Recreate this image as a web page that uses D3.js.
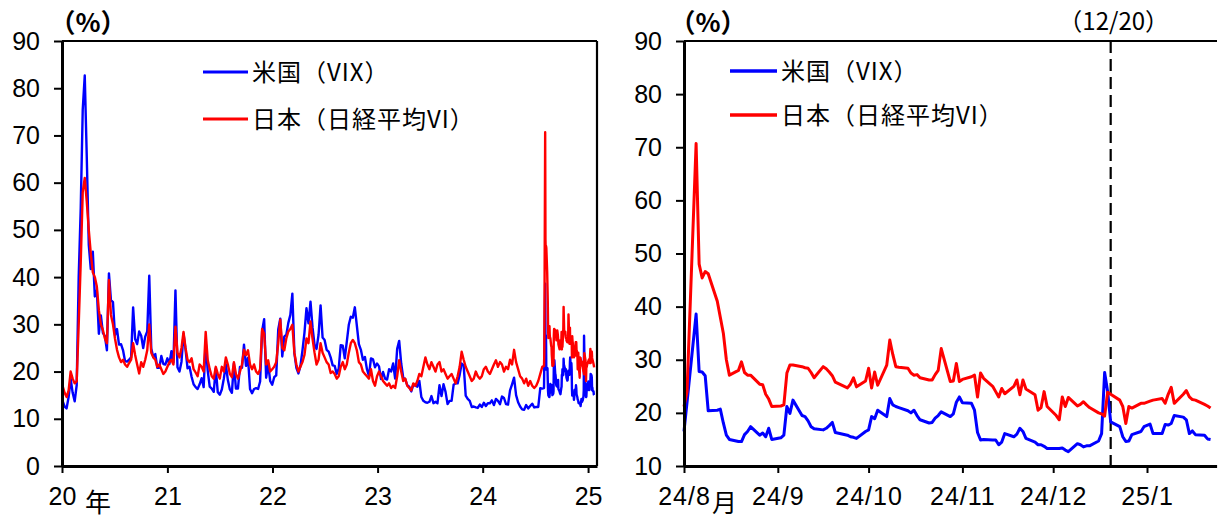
<!DOCTYPE html>
<html>
<head>
<meta charset="utf-8">
<script src="https://cdn.jsdelivr.net/npm/d3@7/dist/d3.min.js"></script>
<style>
  html, body { margin: 0; padding: 0; background: #fff; overflow: hidden; }
  svg { display: block; }
  .tick text { font-family: "Liberation Sans", Arial, sans-serif; font-size: 25px; fill: #000; }
  .jp { font-family: "Noto Sans CJK JP", sans-serif; fill: #000; }
</style>
</head>
<body>
<svg id="chart" width="1219" height="520"></svg>
<script>
"use strict";

// ---- data ----
// left panel: weekly points (Fridays) from 2020-01-03 to 2024-07-26, then the daily points below
const weekStart = "2020-01-03";
const usWeekly = [
  13.8,12.6,12.2,14.6,18.5,15.5,13.7,17.1,40.1,54.5,
  75.5,82.7,65.5,46.8,41.7,45.4,35.9,37.2,28.0,31.9,
  28.2,27.5,24.5,40.8,35.1,34.7,27.7,29.0,25.7,25.8,
  24.5,22.2,22.1,22.5,23.0,33.6,26.9,25.8,28.5,27.6,
  25.0,27.4,28.5,40.3,24.9,23.1,23.7,20.8,20.8,23.3,
  21.6,21.5,
  22.8,21.6,24.3,21.9,37.2,20.9,20.0,22.1,28.0,24.7,
  20.7,21.0,18.9,17.3,16.7,16.3,17.3,18.6,16.7,26.3,
  20.2,16.8,16.4,15.7,20.7,15.6,15.1,16.2,18.5,21.5,
  18.2,16.2,15.5,21.7,16.4,16.4,21.0,20.8,25.7,21.2,
  22.9,16.3,15.4,16.3,16.5,16.3,17.9,28.6,31.1,18.7,
  21.6,18.0,17.2,
  18.8,19.2,28.9,31.2,23.2,27.4,27.8,30.3,32.0,36.5,
  23.9,20.8,19.6,21.2,24.4,28.2,33.4,30.2,34.8,29.4,
  25.7,24.8,27.8,34.0,27.2,26.7,24.6,24.2,23.0,21.3,
  21.2,19.5,20.6,25.6,25.5,22.8,26.3,29.9,31.6,31.4,
  33.6,29.7,25.8,24.6,22.5,23.1,20.5,19.1,22.8,22.6,
  20.9,21.7,
  21.1,18.4,19.9,18.5,18.3,20.5,20.0,21.7,18.5,24.8,
  26.5,21.7,18.7,18.4,17.1,16.8,15.8,17.2,17.0,16.8,
  18.0,14.6,13.8,13.5,13.4,13.6,14.8,13.3,13.6,13.3,
  17.1,14.8,17.3,15.7,13.1,13.8,13.8,17.2,17.5,17.5,
  19.3,21.7,21.3,14.9,14.2,13.8,12.5,12.6,12.4,12.3,
  13.0,12.5,
  13.4,12.7,13.3,13.3,13.9,12.9,14.2,13.8,13.1,14.7,
  14.4,13.1,13.0,16.0,17.3,18.7,15.0,13.5,12.6,12.0,
  11.9,12.9,12.2,12.7,13.2,12.4,12.5,12.5,16.5,16.4
];
const jpWeekly = [
  17.0,15.5,14.6,16.0,20.0,18.5,17.5,17.9,30.0,43.0,
  58.0,61.0,56.0,50.0,45.0,41.0,40.0,38.0,33.0,30.0,
  28.8,27.0,26.0,39.4,32.0,30.0,27.0,24.6,23.0,22.0,
  22.5,21.5,21.0,21.8,22.5,26.0,23.5,21.5,19.6,22.0,
  21.0,22.5,24.5,30.0,24.0,23.0,22.5,21.0,21.5,20.5,
  19.5,20.0,
  21.0,22.0,22.5,21.5,29.5,24.0,23.0,25.0,28.4,25.0,
  22.5,22.0,22.8,20.5,19.8,19.0,21.5,21.0,20.0,28.4,
  22.5,20.5,19.0,18.5,21.0,19.5,18.5,21.0,20.0,23.0,
  21.5,19.5,18.8,22.0,19.5,18.5,20.0,21.5,24.6,23.5,
  24.5,21.5,20.5,21.5,20.0,19.5,20.5,29.0,28.0,21.5,
  22.4,20.0,20.5,
  21.0,22.0,26.0,31.0,25.0,24.5,27.0,28.5,29.0,29.9,
  24.0,21.5,20.0,21.0,22.0,23.5,27.0,26.0,30.6,27.0,
  24.0,21.5,22.5,26.0,24.0,23.0,22.0,21.5,19.7,20.0,
  19.5,18.5,19.0,21.0,22.0,20.5,21.5,24.0,26.0,26.7,
  26.0,24.5,22.0,21.5,20.0,19.5,19.0,18.5,20.5,18.0,
  17.0,19.0,
  20.0,19.0,18.0,17.5,17.0,17.5,16.5,17.0,16.5,19.0,
  22.4,20.0,18.0,18.5,17.0,16.5,16.0,17.5,17.0,18.0,
  19.5,19.0,21.0,23.0,21.5,20.5,22.0,21.0,20.0,21.5,
  22.0,20.0,20.5,19.5,18.5,19.0,19.5,18.5,17.5,19.0,
  21.0,24.2,22.5,21.0,20.0,19.0,18.0,18.5,20.0,19.0,
  18.5,19.0,
  20.5,21.0,20.0,19.5,20.5,21.5,22.4,21.0,22.0,21.5,
  20.0,21.0,20.5,22.5,21.5,24.6,22.0,20.5,19.0,18.5,
  17.5,18.5,17.0,18.0,17.0,16.5,17.0,18.0,19.5,21.0
];

// daily points, 2024-08-01 .. 2025-01-22 (right panel, also the tail of the left panel)
const dailyDates = [
  "2024-08-01","2024-08-02","2024-08-05","2024-08-06","2024-08-07","2024-08-08","2024-08-09",
  "2024-08-12","2024-08-13","2024-08-14","2024-08-15","2024-08-16",
  "2024-08-19","2024-08-20","2024-08-21","2024-08-22","2024-08-23",
  "2024-08-26","2024-08-27","2024-08-28","2024-08-29","2024-08-30",
  "2024-09-02","2024-09-03","2024-09-04","2024-09-05","2024-09-06",
  "2024-09-09","2024-09-10","2024-09-11","2024-09-12","2024-09-13",
  "2024-09-16","2024-09-17","2024-09-18","2024-09-19","2024-09-20",
  "2024-09-24","2024-09-25","2024-09-26","2024-09-27",
  "2024-09-30","2024-10-01","2024-10-02","2024-10-03","2024-10-04",
  "2024-10-07","2024-10-08","2024-10-09","2024-10-10","2024-10-11",
  "2024-10-14","2024-10-15","2024-10-16","2024-10-17","2024-10-18",
  "2024-10-21","2024-10-22","2024-10-23","2024-10-24","2024-10-25",
  "2024-10-28","2024-10-29","2024-10-30","2024-10-31","2024-11-01",
  "2024-11-04","2024-11-05","2024-11-06","2024-11-07","2024-11-08",
  "2024-11-11","2024-11-12","2024-11-13","2024-11-14","2024-11-15",
  "2024-11-18","2024-11-19","2024-11-20","2024-11-21","2024-11-22",
  "2024-11-25","2024-11-26","2024-11-27","2024-11-28","2024-11-29",
  "2024-12-02","2024-12-03","2024-12-04","2024-12-05","2024-12-06",
  "2024-12-09","2024-12-10","2024-12-11","2024-12-12","2024-12-13",
  "2024-12-16","2024-12-17","2024-12-18","2024-12-19","2024-12-20",
  "2024-12-23","2024-12-24","2024-12-25","2024-12-26","2024-12-27",
  "2024-12-30","2024-12-31","2025-01-02","2025-01-03",
  "2025-01-06","2025-01-07","2025-01-08","2025-01-09","2025-01-10",
  "2025-01-13","2025-01-14","2025-01-15","2025-01-16","2025-01-17",
  "2025-01-20","2025-01-21","2025-01-22"
];
const usDaily = [
  16.5,22.0,38.6,27.8,27.7,27.0,20.4,
  20.5,20.7,18.1,15.8,15.0,
  14.6,14.6,15.9,16.5,17.4,
  15.8,16.2,15.5,17.1,15.0,
  15.3,15.8,21.2,19.9,22.4,
  19.5,19.3,18.5,17.4,17.0,
  16.8,17.1,17.6,18.2,16.3,
  15.8,15.5,15.4,15.2,
  16.5,16.8,19.3,18.9,20.5,
  19.3,22.7,21.5,21.2,21.0,
  20.4,20.0,20.5,19.5,18.7,
  18.1,18.2,19.0,19.5,20.2,
  19.3,19.8,22.0,23.0,21.9,
  21.8,20.5,16.3,14.9,15.0,
  14.9,14.9,14.0,14.5,16.1,
  15.5,16.0,17.1,16.5,15.2,
  14.5,14.0,14.0,13.7,13.3,
  13.3,13.3,13.4,13.0,12.7,
  14.2,14.0,13.6,13.8,13.8,
  14.7,16.1,27.6,24.0,18.3,
  17.4,15.5,14.6,14.7,15.9,
  16.5,17.4,17.9,16.1,
  16.1,17.8,17.7,18.0,19.5,
  19.2,18.7,16.1,16.6,15.9,
  15.8,15.1,15.0
];
const jpDaily = [
  21.2,24.0,70.7,48.0,45.4,46.6,46.2,
  41.0,38.0,35.0,30.0,27.1,
  28.0,29.6,27.6,27.1,27.1,
  25.4,25.3,23.5,22.6,21.2,
  21.3,21.5,27.5,29.0,29.0,
  28.7,28.5,28.4,27.6,26.6,
  28.7,28.3,27.7,27.0,25.8,
  24.7,25.4,26.6,24.9,
  26.0,28.4,24.7,27.7,25.2,
  29.0,33.7,31.0,28.7,28.6,
  28.4,27.5,27.1,27.2,26.6,
  26.2,26.2,27.2,28.0,32.1,
  25.9,26.0,29.3,25.9,26.3,
  26.8,27.1,23.0,27.5,26.5,
  25.0,24.0,23.0,24.6,23.6,
  25.0,26.2,23.4,26.2,24.5,
  23.4,20.5,21.0,24.0,21.2,
  19.5,18.7,23.0,21.2,22.9,
  21.3,21.6,22.1,21.5,21.0,
  20.0,19.8,19.4,23.9,23.5,
  22.4,21.2,18.0,21.2,20.9,
  21.8,21.8,22.2,22.4,
  22.7,21.8,23.5,24.8,21.8,
  23.5,24.2,23.0,22.5,22.4,
  21.6,21.3,20.9
];

const leftYTicks = [0, 10, 20, 30, 40, 50, 60, 70, 80, 90];
const rightYTicks = [10, 20, 30, 40, 50, 60, 70, 80, 90];
const leftXTicks = ["2020-01-01", "2021-01-01", "2022-01-01", "2023-01-01", "2024-01-01", "2025-01-01"];
const leftXLabels = ["20", "21", "22", "23", "24", "25"];
const rightXTicks = ["2024-08-01", "2024-09-01", "2024-10-01", "2024-11-01", "2024-12-01", "2025-01-01"];
const rightXLabels = ["24/8", "24/9", "24/10", "24/11", "24/12", "25/1"];
const seriesNames = ["米国（VIX）", "日本（日経平均VI）"];
const seriesColors = ["#0000ff", "#ff0000"];
const markerDate = "2024-12-20";
const markerLabel = "（12/20）";

// ---- build series ----
const parse = d3.utcParse("%Y-%m-%d");
const t0 = parse(weekStart);
const weeklyDates = usWeekly.map((_, i) => d3.utcDay.offset(t0, i * 7));
const dDates = dailyDates.map(parse);

const leftUS = weeklyDates.map((d, i) => [d, usWeekly[i]]).concat(dDates.map((d, i) => [d, usDaily[i]]));
const leftJP = weeklyDates.map((d, i) => [d, jpWeekly[i]]).concat(dDates.map((d, i) => [d, jpDaily[i]]));
const rightUS = dDates.map((d, i) => [d, usDaily[i]]);
const rightJP = dDates.map((d, i) => [d, jpDaily[i]]);

const svg = d3.select("#chart");
const TOP = 41, BOTTOM = 466;

function panel(opt) {
  const g = svg.append("g");
  const x = d3.scaleUtc().domain(opt.xDomain.map(parse)).range([opt.x0, opt.x1]);
  const y = d3.scaleLinear().domain(opt.yDomain).range([BOTTOM, TOP]);
  const line = d3.line().x(d => x(d[0])).y(d => y(d[1]));

  // frame
  g.append("line").attr("x1", opt.x0).attr("x2", opt.frameRight).attr("y1", TOP).attr("y2", TOP)
    .attr("stroke", "#000").attr("stroke-width", 2.2);
  if (opt.rightBorder) {
    g.append("line").attr("x1", opt.x1).attr("x2", opt.x1).attr("y1", TOP).attr("y2", BOTTOM)
      .attr("stroke", "#000").attr("stroke-width", 2.2);
  }

  if (opt.marker) {
    g.append("line")
      .attr("x1", x(parse(opt.marker))).attr("x2", x(parse(opt.marker)))
      .attr("y1", TOP).attr("y2", BOTTOM)
      .attr("stroke", "#000").attr("stroke-width", 2.2).attr("stroke-dasharray", "12,6");
    g.append("text").attr("class", "jp")
      .attr("x", x(parse(opt.marker)) + 3).attr("y", 30)
      .attr("text-anchor", "middle").style("font-size", "24px")
      .text(opt.markerLabel);
  }

  // series
  opt.series.forEach((s, i) => {
    g.append("path").datum(s)
      .attr("fill", "none").attr("stroke", seriesColors[i])
      .attr("stroke-width", opt.lineWidth).attr("stroke-linejoin", "round")
      .attr("d", line);
  });

  // y axis
  const ya = g.append("g").attr("transform", `translate(${opt.x0},0)`)
    .call(d3.axisLeft(y).tickValues(opt.yTicks).tickSize(8).tickSizeOuter(0).tickPadding(14));
  ya.select(".domain").attr("stroke-width", 3);
  ya.selectAll(".tick line").attr("stroke-width", 2);

  // x axis
  const xa = g.append("g").attr("transform", `translate(0,${BOTTOM})`)
    .call(d3.axisBottom(x).tickValues(opt.xTicks.map(parse))
      .tickFormat((d, i) => opt.xLabels[i]).tickSize(7).tickSizeOuter(0).tickPadding(14));
  xa.select(".domain").attr("stroke-width", 3);
  xa.selectAll(".tick line").attr("stroke-width", 2);
  xa.selectAll(".tick text").style("letter-spacing", opt.letterSpacing);

  // unit label
  g.append("text").attr("class", "jp")
    .attr("x", opt.x0 + opt.unitDx).attr("y", 32)
    .attr("text-anchor", "middle").style("font-size", "26px").style("font-weight", "bold")
    .text("（%）");

  // legend
  opt.series.forEach((s, i) => {
    const ly = opt.legendY[i];
    g.append("line").attr("x1", opt.legendX).attr("x2", opt.legendX + opt.legendLen)
      .attr("y1", ly).attr("y2", ly)
      .attr("stroke", seriesColors[i]).attr("stroke-width", opt.lineWidth + 0.5);
    g.append("text").attr("class", "jp")
      .attr("x", opt.legendX + opt.legendLen + 4).attr("y", ly + 9)
      .style("font-size", "24px").style("letter-spacing", "1px")
      .text(seriesNames[i]);
  });

  // unit suffix under the first x tick
  g.append("text").attr("class", "jp")
    .attr("x", x(parse(opt.xTicks[0])) + opt.suffixDx).attr("y", 512)
    .style("font-size", opt.suffixSize)
    .text(opt.suffix);

  return g;
}

panel({
  x0: 62, x1: 597, frameRight: 597, rightBorder: true,
  xDomain: ["2020-01-01", "2025-02-01"], yDomain: [0, 90],
  yTicks: leftYTicks, xTicks: leftXTicks, xLabels: leftXLabels,
  series: [leftUS, leftJP], lineWidth: 2.4,
  legendX: 203, legendLen: 45, legendY: [72, 119],
  unitDx: 26, suffix: "年", suffixDx: 23, suffixSize: "26px", letterSpacing: "0px"
});

panel({
  x0: 684, x1: 1216.6, frameRight: 1217, rightBorder: false,
  xDomain: ["2024-08-01", "2025-01-24"], yDomain: [10, 90],
  yTicks: rightYTicks, xTicks: rightXTicks, xLabels: rightXLabels,
  series: [rightUS, rightJP], lineWidth: 3,
  legendX: 730, legendLen: 47, legendY: [71, 115],
  marker: markerDate, markerLabel: markerLabel,
  unitDx: 24, suffix: "月", suffixDx: 28, suffixSize: "25px", letterSpacing: "1px"
});
</script>
</body>
</html>
